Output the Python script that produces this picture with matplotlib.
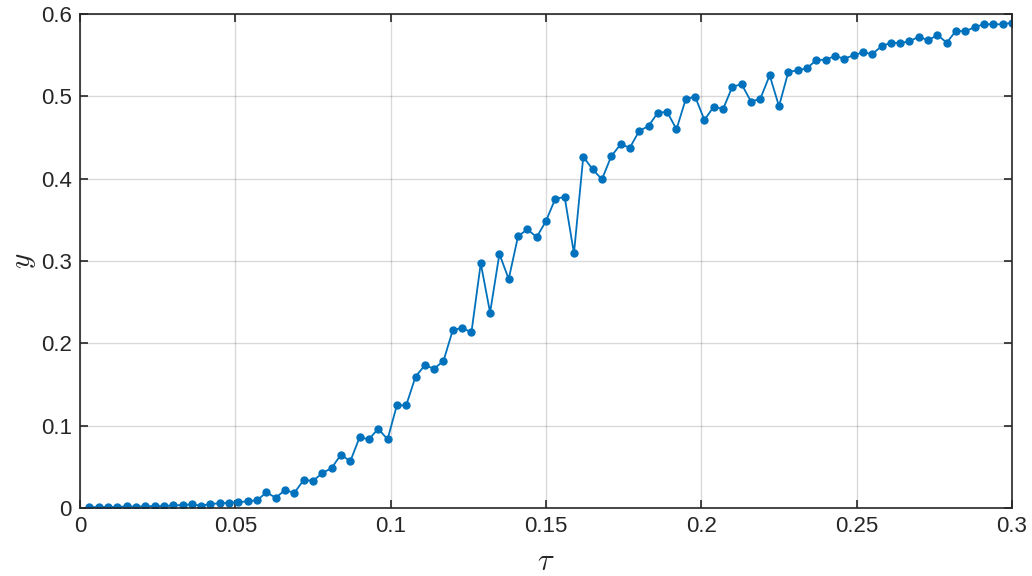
import numpy as np
import matplotlib.pyplot as plt

# tau sampled every 0.003 from 0.003 to 0.3
tau = np.arange(1, 101) * 0.003
y = [
    0.0008, 0.0012, 0.0012, 0.0012, 0.0020, 0.0016, 0.0020, 0.0024, 0.0024, 0.0032,
    0.0036, 0.0045, 0.0028, 0.0049, 0.0057, 0.0065, 0.0069, 0.0083, 0.0093, 0.0190,
    0.0125, 0.0217, 0.0184, 0.0340, 0.0330, 0.0423, 0.0486, 0.0648, 0.0567, 0.0859,
    0.0834, 0.0963, 0.0834, 0.1247, 0.1247, 0.1595, 0.1733, 0.1692, 0.1786, 0.2162,
    0.2186, 0.2134, 0.2972, 0.2373, 0.3085, 0.2781, 0.3300, 0.3385, 0.3290, 0.3486,
    0.3757, 0.3777, 0.3093, 0.4267, 0.4114, 0.3992, 0.4271, 0.4417, 0.4377, 0.4579,
    0.4640, 0.4802, 0.4810, 0.4600, 0.4968, 0.4996, 0.4713, 0.4875, 0.4846, 0.5118,
    0.5146, 0.4935, 0.4972, 0.5255, 0.4879, 0.5296, 0.5316, 0.5340, 0.5441, 0.5445,
    0.5490, 0.5458, 0.5498, 0.5534, 0.5514, 0.5607, 0.5652, 0.5648, 0.5668, 0.5725,
    0.5680, 0.5745, 0.5652, 0.5798, 0.5790, 0.5842, 0.5875, 0.5875, 0.5875, 0.5895,
]
xticks = [0, 0.05, 0.1, 0.15, 0.2, 0.25, 0.3]
xticklabels = ['0', '0.05', '0.1', '0.15', '0.2', '0.25', '0.3']
yticks = [0, 0.1, 0.2, 0.3, 0.4, 0.5, 0.6]
yticklabels = ['0', '0.1', '0.2', '0.3', '0.4', '0.5', '0.6']

plt.rcParams['font.family'] = ['Liberation Sans', 'DejaVu Sans']
plt.rcParams['mathtext.fontset'] = 'cm'

fig = plt.figure(figsize=(10.32, 5.76), dpi=100)
ax = fig.add_axes([80 / 1032, 1 - 508 / 576, 932 / 1032, 494 / 576])

ax.plot(tau, y, color='#0072BD', linewidth=1.3, marker='.', markersize=10)

ax.set_xlim(0, 0.3)
ax.set_ylim(0, 0.6)
ax.set_xticks(xticks)
ax.set_xticklabels(xticklabels)
ax.set_yticks(yticks)
ax.set_yticklabels(yticklabels)
ax.grid(True, color='#000000', alpha=0.15, linewidth=1.0)
ax.set_axisbelow(True)

ax.tick_params(direction='in', top=True, right=True, length=6, width=1.2,
               colors='#262626', labelsize=16, pad=6)
for s in ax.spines.values():
    s.set_color('#262626')
    s.set_linewidth(1.2)

ax.set_xlabel(r'$\tau$', fontsize=22, color='#262626', labelpad=7)
ax.set_ylabel(r'$y$', fontsize=21, color='#262626', labelpad=2)

fig.savefig('out.png', dpi=100)
